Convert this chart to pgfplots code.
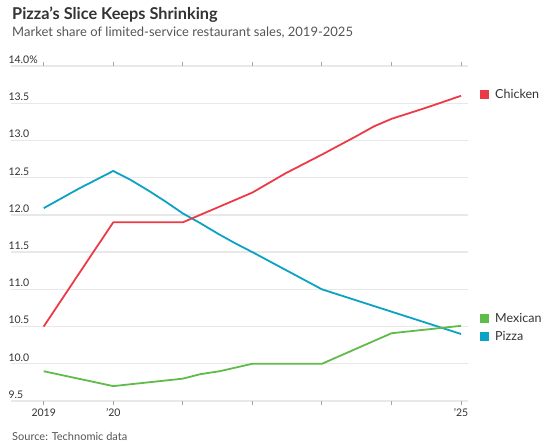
\documentclass[border=0pt]{standalone}
\usepackage{pgfplots}
\pgfplotsset{compat=1.18}
\usepackage{fontspec}
\setmainfont{Lato}
\definecolor{chicken}{HTML}{EB3B47}
\definecolor{pizza}{HTML}{0BA2C3}
\definecolor{mexican}{HTML}{61BB4B}
\definecolor{gridc}{HTML}{E8E8E8}
\definecolor{txt}{HTML}{333333}
\definecolor{subt}{HTML}{555555}
\begin{document}
\begin{tikzpicture}
\path[use as bounding box] (0,0) rectangle (550pt,447pt);
\node[anchor=base west, font=\fontsize{16.3}{19}\selectfont\bfseries, text=txt, inner sep=0] at (12pt,427pt) {Pizza’s Slice Keeps Shrinking};
\node[anchor=base west, font=\fontsize{13}{16}\selectfont, text=subt, inner sep=0] at (12pt,410pt) {Market share of limited-service restaurant sales, 2019-2025};
\node[anchor=base west, font=\fontsize{11}{13}\selectfont, text=subt, inner sep=0] at (12pt,6pt) {Source: Technomic data};
\begin{axis}[
  at={(11pt,46pt)}, anchor=south west,
  scale only axis, width=457pt, height=335pt,
  xmin=2018.53, xmax=2025.1, ymin=9.5, ymax=14,
  clip=false,
  axis line style={draw=none},
  ymajorgrids, grid style={gridc, line width=1.3pt},
  ytick={9.5,10,10.5,11,11.5,12,12.5,13,13.5,14},
  yticklabels={9.5,10.0,10.5,11.0,11.5,12.0,12.5,13.0,13.5,14.0\%},
  ytick style={draw=none},
  yticklabel style={anchor=south west, xshift=-2pt, yshift=-1pt, font=\fontsize{10.5}{12}\selectfont, text=txt},
  xtick={2019,2020,2021,2022,2023,2024,2025},
  xticklabels={2019,’20,,,,,’25},
  xtick style={draw=gray!70, line width=0.9pt},
  tick align=outside, major tick length=4pt,
  xticklabel style={font=\fontsize{10.5}{12}\selectfont, text=txt},
  every axis plot/.append style={line width=1.8pt, no markers, line join=round},
]
\addplot[pizza] coordinates {
(2019,12.09) (2019.5,12.35) (2020,12.59) (2020.25,12.47) (2020.5,12.33) (2020.75,12.18)
(2021,12.02) (2021.25,11.89) (2021.5,11.75) (2021.75,11.62) (2022,11.5) (2022.5,11.25)
(2023,11.0) (2023.5,10.85) (2024,10.7) (2024.5,10.55) (2025,10.4)};
\addplot[chicken] coordinates {
(2019,10.5) (2019.47,11.16) (2020,11.9) (2021,11.9) (2022,12.3) (2022.48,12.56)
(2023,12.81) (2023.5,13.06) (2023.75,13.19) (2024,13.29) (2024.5,13.44) (2025,13.6)};
\addplot[mexican] coordinates {
(2019,9.9) (2020,9.7) (2021,9.8) (2021.25,9.86) (2021.53,9.9) (2022,10.0)
(2023,10.0) (2024,10.41) (2025,10.51)};
\fill[chicken] ([xshift=19pt,yshift=-4.5pt]axis cs:2025,13.62) rectangle ++(9pt,9pt);
\node[anchor=west, inner sep=0, font=\fontsize{12.5}{14}\selectfont, text=txt] at ([xshift=34pt]axis cs:2025,13.62) {Chicken};
\fill[mexican] ([xshift=19pt,yshift=-4.5pt]axis cs:2025,10.61) rectangle ++(9pt,9pt);
\node[anchor=west, inner sep=0, font=\fontsize{12.5}{14}\selectfont, text=txt] at ([xshift=34pt]axis cs:2025,10.61) {Mexican};
\fill[pizza] ([xshift=19pt,yshift=-4.5pt]axis cs:2025,10.37) rectangle ++(9pt,9pt);
\node[anchor=west, inner sep=0, font=\fontsize{12.5}{14}\selectfont, text=txt] at ([xshift=34pt]axis cs:2025,10.37) {Pizza};
\end{axis}
\end{tikzpicture}
\end{document}
